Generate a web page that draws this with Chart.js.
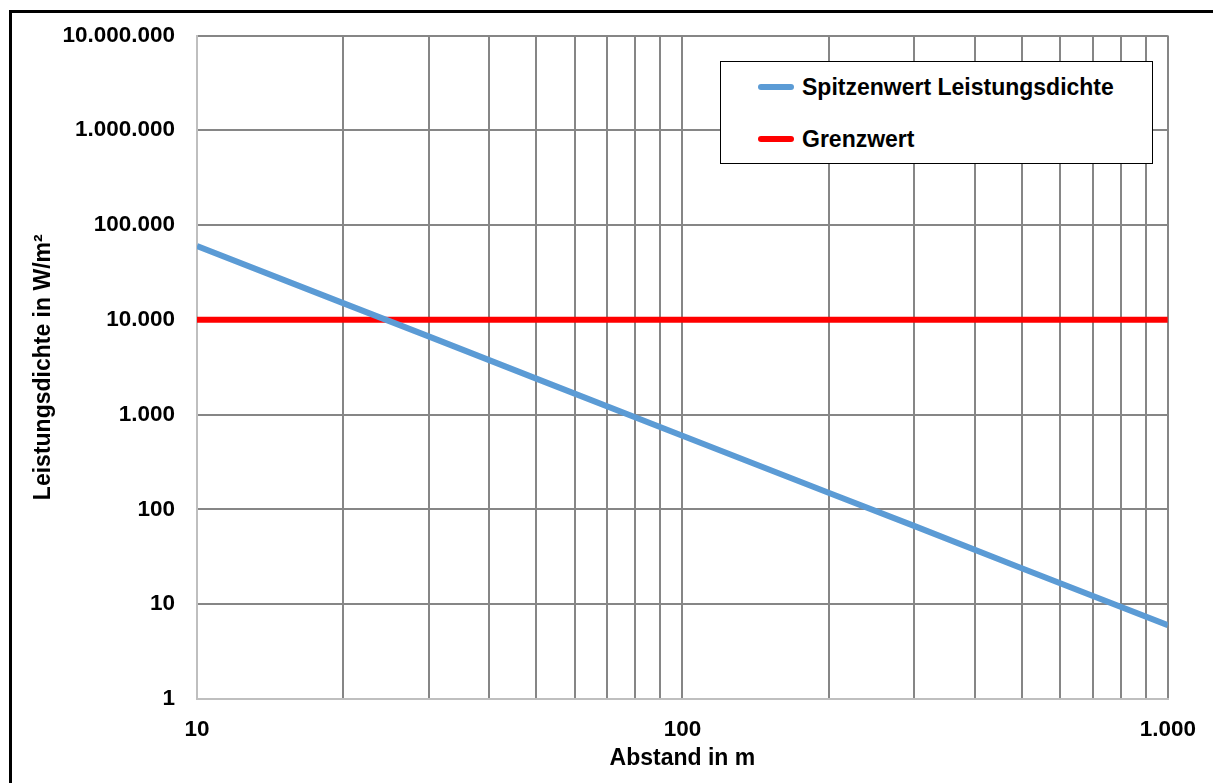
<!DOCTYPE html>
<html>
<head>
<meta charset="utf-8">
<script src="https://cdn.jsdelivr.net/npm/chart.js@4.4.0/dist/chart.umd.min.js"></script>
<style>
  html, body { margin: 0; padding: 0; background: #fff; overflow: hidden; }
  #wrap { position: relative; width: 1213px; height: 783px; }
  #rahmen { position: absolute; left: 9px; top: 10px; width: 1220px; height: 800px;
            border-top: 3px solid #000; border-left: 3px solid #000; }
  #legende { position: absolute; left: 720px; top: 61px; width: 433px; height: 103px;
             box-sizing: border-box; border: 1px solid #000; background: #fff;
             font: bold 23px "Liberation Sans", Arial, sans-serif; color: #000; }
  .eintrag { position: absolute; left: 37px; height: 26px; display: flex; align-items: center; white-space: nowrap; }
  .eintrag span.linie { display: inline-block; width: 36px; height: 6px; border-radius: 3px; margin-right: 8px; }
</style>
</head>
<body>
<div id="wrap">
  <div id="rahmen"></div>
  <canvas id="diagramm" width="1213" height="783"></canvas>
  <div id="legende"></div>
</div>
<script>
// Werte
const abstand = [10, 20, 30, 50, 100, 200, 300, 500, 1000];
const spitzenwert = [60000, 15000, 6700, 2400, 600, 150, 67, 24, 6];
const grenzAbstand = [10, 1000];
const grenzwert = [10000, 10000];

const xTicks = [10, 20, 30, 40, 50, 60, 70, 80, 90, 100, 200, 300, 400, 500, 600, 700, 800, 900, 1000];
const yTicks = [1, 10, 100, 1000, 10000, 100000, 1000000, 10000000];

const schrift = '"Liberation Sans", Arial, sans-serif';
const gitterFarbe = '#868686';

function formatDE(v) {
    return String(Math.round(v)).replace(/\B(?=(\d{3})+(?!\d))/g, '.');
}
function istZehnerPotenz(v) {
    const l = Math.log10(v);
    return Math.abs(l - Math.round(l)) < 1e-9;
}

const datensaetze = [
    {
        label: 'Spitzenwert Leistungsdichte',
        data: abstand.map((x, i) => ({ x: x, y: spitzenwert[i] })),
        borderColor: '#5b9bd5',
        backgroundColor: '#5b9bd5',
        borderWidth: 6,
        pointRadius: 0,
        tension: 0
    },
    {
        label: 'Grenzwert',
        data: grenzAbstand.map((x, i) => ({ x: x, y: grenzwert[i] })),
        borderColor: '#ff0000',
        backgroundColor: '#ff0000',
        borderWidth: 6,
        pointRadius: 0,
        tension: 0
    }
];

const ctx = document.getElementById('diagramm').getContext('2d');
const chart = new Chart(ctx, {
    type: 'line',
    data: { datasets: datensaetze },
    options: {
        responsive: false,
        animation: false,
        layout: { padding: { top: 33, right: 44, bottom: 0, left: 0 } },
        plugins: {
            legend: { display: false },
            tooltip: { enabled: false }
        },
        scales: {
            x: {
                type: 'logarithmic',
                min: 10,
                max: 1000,
                afterBuildTicks: function (scale) {
                    scale.ticks = xTicks.map(v => ({ value: v }));
                },
                afterFit: function (scale) { scale.height = 84; },
                grid: { color: gitterFarbe, lineWidth: 2, drawTicks: false },
                border: { color: '#bfbfbf', width: 2 },
                ticks: {
                    autoSkip: false,
                    maxRotation: 0,
                    padding: 17,
                    color: '#000',
                    font: { family: schrift, size: 22.5, weight: 'bold' },
                    callback: function (v) { return istZehnerPotenz(v) ? formatDE(v) : ''; }
                },
                title: {
                    display: true,
                    text: 'Abstand in m',
                    color: '#000',
                    font: { family: schrift, size: 23, weight: 'bold' },
                    padding: { top: 0, bottom: 11 }
                }
            },
            y: {
                type: 'logarithmic',
                min: 1,
                max: 10000000,
                afterBuildTicks: function (scale) {
                    scale.ticks = yTicks.map(v => ({ value: v }));
                },
                afterFit: function (scale) { scale.width = 197; },
                grid: { color: gitterFarbe, lineWidth: 2, drawTicks: false },
                border: { color: '#bfbfbf', width: 2 },
                ticks: {
                    autoSkip: false,
                    padding: 22,
                    color: '#000',
                    font: { family: schrift, size: 22.5, weight: 'bold' },
                    callback: function (v) { return formatDE(v); }
                },
                title: {
                    display: true,
                    text: 'Leistungsdichte in W/m²',
                    color: '#000',
                    font: { family: schrift, size: 23, weight: 'bold' },
                    padding: { top: 30, bottom: 0 }
                }
            }
        }
    }
});

// Legende als HTML
const legende = document.getElementById('legende');
const zeilenMitte = [25, 77];
chart.data.datasets.forEach(function (ds, i) {
    const e = document.createElement('div');
    e.className = 'eintrag';
    e.style.top = (zeilenMitte[i] - 13) + 'px';
    const l = document.createElement('span');
    l.className = 'linie';
    l.style.background = ds.borderColor;
    e.appendChild(l);
    e.appendChild(document.createTextNode(ds.label));
    legende.appendChild(e);
});
</script>
</body>
</html>
